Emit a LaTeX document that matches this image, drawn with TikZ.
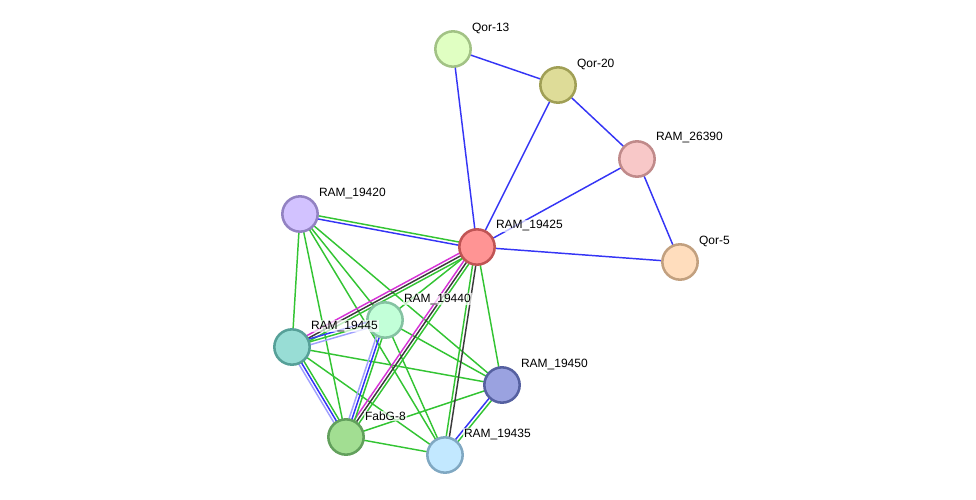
\documentclass[tikz,border=0pt]{standalone}
\usepackage{fontspec}
\setmainfont{Liberation Sans}
\usetikzlibrary{calc,backgrounds}
\definecolor{nbgreen}{HTML}{33C433}
\definecolor{coblue}{HTML}{3535F5}
\definecolor{hoblue}{HTML}{A0A0FF}
\definecolor{exmag}{HTML}{D633D6}
\definecolor{cxblack}{HTML}{3A3A3A}
% parallel lane between two nodes
\newcommand{\lane}[4]{\draw[link,#4] ($(#1.center)!#3!90:(#2.center)$) -- ($(#2.center)!#3!-90:(#1.center)$);}
\begin{document}
\begin{tikzpicture}[x=0.75pt, y=-0.75pt,
  prot/.style={circle, draw, line width=1.9pt, minimum size=26.5pt, inner sep=0pt},
  link/.style={line width=1.1pt},
  tag/.style={anchor=west, font=\fontsize{9}{10}\selectfont, inner sep=0.6pt,
    fill=white, fill opacity=0.7, text opacity=1}]
\useasboundingbox (0,0) rectangle (976,500);
\foreach \n/\x/\y/\f/\d/\t in {
  q13/453/49/E0FFC2/A2C285/Qor-13,
  q20/558/85/DEDC98/A09F55/Qor-20,
  r90/637/159/F8C8C8/C08A8A/RAM\_26390,
  q5/680/262/FFDDBD/C2A07F/Qor-5,
  r25/477/247/FF9494/C05454/RAM\_19425,
  r20/300/214/D2C2FF/9282C2/RAM\_19420,
  r40/385/320/C2FFD8/85C2A2/RAM\_19440,
  r45/292/347/98DDD5/56A098/RAM\_19445,
  r50/502/385/9AA2E0/5560A0/RAM\_19450,
  fab/346/437/A2DE92/62A05C/FabG-8,
  r35/445/455/C2E8FF/80A8C2/RAM\_19435}{
  \definecolor{fc}{HTML}{\f}
  \definecolor{dc}{HTML}{\d}
  \node[prot, fill=fc, draw=dc] (\n) at (\x,\y) {};
  \node[tag] (\n-tag) at (\x+18,\y-21) {\t};
}
\begin{pgfonlayer}{background}
  % single lanes
  \foreach \a/\b in {q13/q20, q13/r25, q20/r25, q20/r90, r90/r25, r90/q5, r25/q5}
    {\lane{\a}{\b}{0pt}{coblue}}
  \foreach \a/\b in {r20/r45, r20/fab, r20/r40, r20/r35, r20/r50, r40/r50, r40/r35,
    r45/r50, r45/r35, fab/r50, fab/r35, r25/r50, r25/r40}
    {\lane{\a}{\b}{0pt}{nbgreen}}
  % double lanes
  \lane{r20}{r25}{-1.2pt}{coblue} \lane{r20}{r25}{1.2pt}{nbgreen}
  \lane{r25}{r35}{1.2pt}{cxblack} \lane{r25}{r35}{-1.2pt}{nbgreen}
  \lane{r50}{r35}{1.2pt}{nbgreen} \lane{r50}{r35}{-1.2pt}{coblue}
  % triple lanes
  \lane{r25}{r45}{-2.2pt}{exmag} \lane{r25}{r45}{0pt}{cxblack} \lane{r25}{r45}{2.2pt}{nbgreen}
  \lane{r25}{fab}{-2.2pt}{exmag} \lane{r25}{fab}{0pt}{cxblack} \lane{r25}{fab}{2.2pt}{nbgreen}
  \lane{r40}{r45}{-2.2pt}{coblue} \lane{r40}{r45}{0pt}{nbgreen} \lane{r40}{r45}{2.2pt}{hoblue}
  \lane{r40}{fab}{-2.2pt}{hoblue} \lane{r40}{fab}{0pt}{coblue} \lane{r40}{fab}{2.2pt}{nbgreen}
  \lane{r45}{fab}{-2.2pt}{hoblue} \lane{r45}{fab}{0pt}{coblue} \lane{r45}{fab}{2.2pt}{nbgreen}
\end{pgfonlayer}
\end{tikzpicture}
\end{document}
